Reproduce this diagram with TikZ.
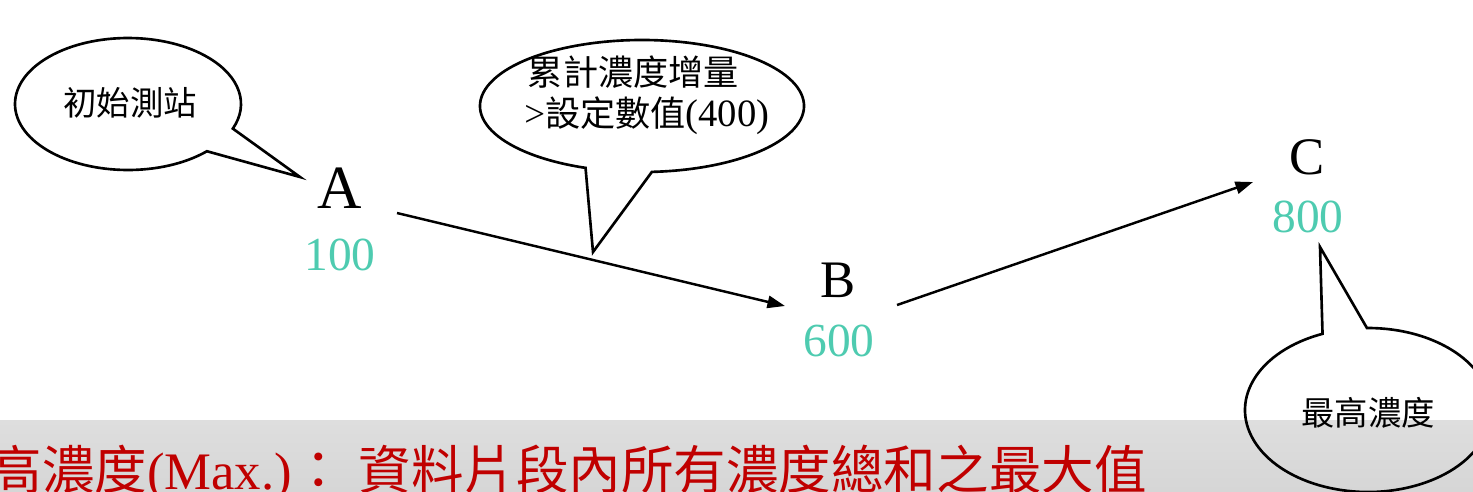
\documentclass[tikz,border=0pt]{standalone}
\usepackage{fontspec}
\setmainfont{Liberation Serif}
\newfontfamily\cjk{Noto Sans CJK TC}
\usetikzlibrary{calc,arrows.meta}
\definecolor{tealnum}{RGB}{78,203,176}
\definecolor{darkred}{RGB}{192,0,0}
\definecolor{bandtop}{RGB}{222,222,222}
\definecolor{bandbot}{RGB}{214,214,214}
\begin{document}
\begin{tikzpicture}[x=0.02cm,y=0.02cm,
  bubble/.style={line width=1.5pt, line join=miter},
  conn/.style={line width=1.4pt, -{Triangle[length=10pt,width=7pt]}},
  letter/.style={inner sep=0pt, anchor=base},
  num/.style={inner sep=0pt, anchor=base, text=tealnum, font=\fontsize{27}{30}\selectfont},
  btext/.style={inner sep=0pt, font=\cjk\fontsize{19}{23}\selectfont}]
\useasboundingbox (0,0) rectangle (1473,-491);
\clip (0,0) rectangle (1473,-491);
% bottom band
\shade[top color=bandtop, bottom color=bandbot] (0,-420) rectangle (1473,-491);
\node[inner sep=0pt, anchor=base east, text=darkred, font=\fontsize{30}{32}\selectfont] (def) at (1147,-489)
  {{\cjk\fontsize{29.9}{32}\selectfont 最高濃度}(Max.){\cjk\fontsize{29.9}{32}\selectfont ：}\hspace{8pt}{\cjk\fontsize{29.9}{32}\selectfont 資料片段內所有濃度總和之最大值}};
% station labels
\node[letter, font=\fontsize{35}{40}\selectfont] (A) at (340,-208) {A};
\node[num] (a100) at (340,-270) {100};
\node[letter, font=\fontsize{30}{36}\selectfont] (B) at (838,-297) {B};
\node[num] (b600) at (839,-356) {600};
\node[letter, font=\fontsize{30}{36}\selectfont] (C) at (1307,-174) {C};
\node[num] (c800) at (1308,-232) {800};
% connectors
\coordinate (ab1) at (397,-213);
\coordinate (ab2) at (785,-306);
\coordinate (bc1) at (897,-305);
\coordinate (bc2) at (1253,-182);
\draw[conn] (ab1) -- (ab2);
\draw[conn] (bc1) -- (bc2);
% bubble 1
\coordinate (c1) at (128,-104);
\coordinate (t1) at (300,-177);
\draw[bubble] ($(c1)+(-21.9:113 and 66)$) -- (t1) -- ($(c1)+(-45.7:113 and 66)$)
  arc[start angle=-45.7, end angle=-381.9, x radius=113, y radius=66] -- cycle;
\node[btext] (txt1) at (130,-103) {初始測站};
% bubble 2
\coordinate (c2) at (642,-106);
\coordinate (t2) at (593,-252);
\draw[bubble] ($(c2)+(-86.5:162 and 66)$) -- (t2) -- ($(c2)+(-110.4:162 and 66)$)
  arc[start angle=-110.4, end angle=-446.5, x radius=162, y radius=66] -- cycle;
\node[btext, font=\cjk\fontsize{20}{23.5}\selectfont, anchor=west, align=left] (txt2) at (524,-95)
  {\hspace{2pt}累計濃度增量\\{\rmfamily\fontsize{21}{23}\selectfont >}設定數值{\rmfamily\fontsize{22}{23}\selectfont (400)}};
% bubble 3
\coordinate (c3) at (1368,-410);
\coordinate (t3) at (1320,-247);
\draw[bubble] ($(c3)+(90.5:123 and 82)$) -- (t3) -- ($(c3)+(111.7:123 and 82)$)
  arc[start angle=111.7, end angle=450.5, x radius=123, y radius=82] -- cycle;
\node[btext] (txt3) at (1368,-413) {最高濃度};
\end{tikzpicture}
\end{document}
